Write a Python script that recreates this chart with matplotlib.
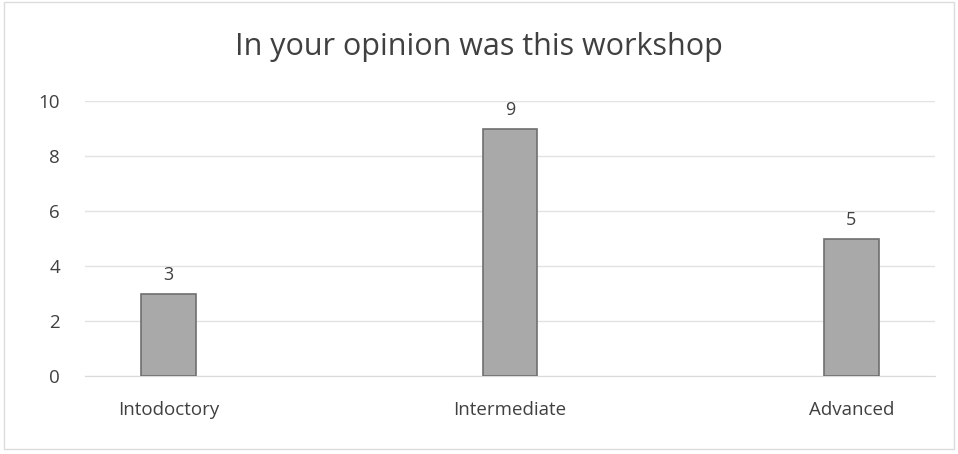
import matplotlib
matplotlib.use("Agg")
import matplotlib.pyplot as plt
from matplotlib.patches import Rectangle

categories = ["Intodoctory", "Intermediate", "Advanced"]
counts = [3, 9, 5]
y_ticks = [0, 2, 4, 6, 8, 10]

plt.rcParams["font.family"] = ["Open Sans", "DejaVu Sans"]

fig = plt.figure(figsize=(9.58, 4.54), dpi=100)
ax = fig.add_axes([85 / 958, 1 - 376 / 454, 850 / 958, 275 / 454])

x = list(range(len(categories)))
bars = ax.bar(x, counts, width=0.16, color="#a9a9a9", edgecolor="#6f6f6f", linewidth=1.2, zorder=3)

for xi, v in zip(x, counts):
    ax.text(xi, v + 0.35, str(v), ha="center", va="bottom", fontsize=13, color="#404040")

ax.set_xlim(-0.245, 2.245)
ax.set_ylim(0, 10)
ax.set_yticks(y_ticks)
ax.set_xticks(x)
ax.set_xticklabels(categories, fontsize=13.5, color="#404040")
ax.tick_params(axis="y", labelsize=13.5, labelcolor="#404040", length=0, pad=18)
ax.tick_params(axis="x", length=0, pad=18)
ax.grid(axis="y", color="#e2e2e2", linewidth=1, zorder=0)
for s in ["top", "right", "left"]:
    ax.spines[s].set_visible(False)
ax.spines["bottom"].set_color("#d9d9d9")

fig.text(0.5, 1 - 47 / 454, "In your opinion was this workshop", ha="center", va="center",
         fontsize=22, color="#404040")

# faint chart border
fig.patches.append(Rectangle((0.004, 0.01), 0.992, 0.985, transform=fig.transFigure,
                             fill=False, edgecolor="#dcdcdc", linewidth=1))

fig.savefig("out.png", dpi=100)
